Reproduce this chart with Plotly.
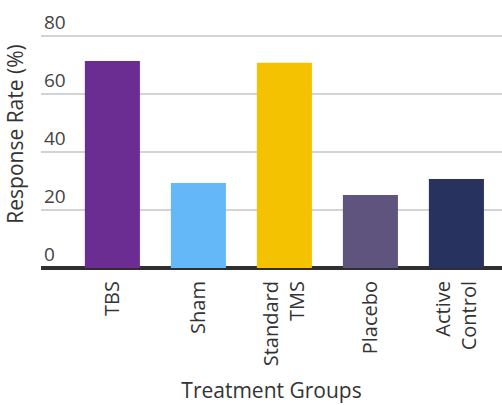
import plotly.graph_objects as go

categories = ["TBS", "Sham", "Standard<br>TMS", "Placebo", "Active<br>Control"]
response_rate = [71.4, 29.3, 70.8, 25.2, 30.7]
bar_colors = ["#6B2D91", "#64B8F8", "#F4C200", "#5E547E", "#27335E"]

fig = go.Figure(
    go.Bar(
        x=categories,
        y=response_rate,
        marker=dict(color=bar_colors, line=dict(width=0)),
        width=0.64,
    )
)

fig.update_layout(
    width=502,
    height=405,
    margin=dict(l=41, r=0, t=0, b=137),
    paper_bgcolor="white",
    plot_bgcolor="white",
    font=dict(family="Open Sans", size=20, color="#333333"),
    showlegend=False,
    xaxis=dict(
        title=dict(text="Treatment Groups", font=dict(size=21), standoff=18),
        tickangle=-90,
        tickfont=dict(size=20),
        ticklabelstandoff=8,
        showgrid=False,
        range=[-0.83, 4.53],
        ticks="",
    ),
    yaxis=dict(
        title=dict(text="Response Rate (%)", font=dict(size=21), standoff=14),
        range=[0, 92.4],
        tickvals=[0, 20, 40, 60, 80],
        ticklabelposition="inside top",
        tickfont=dict(size=19),
        gridcolor="#d3d3d3",
        gridwidth=2,
        zeroline=True,
        zerolinecolor="#2f2f2f",
        zerolinewidth=4,
    ),
)

fig.write_html("out.html")
